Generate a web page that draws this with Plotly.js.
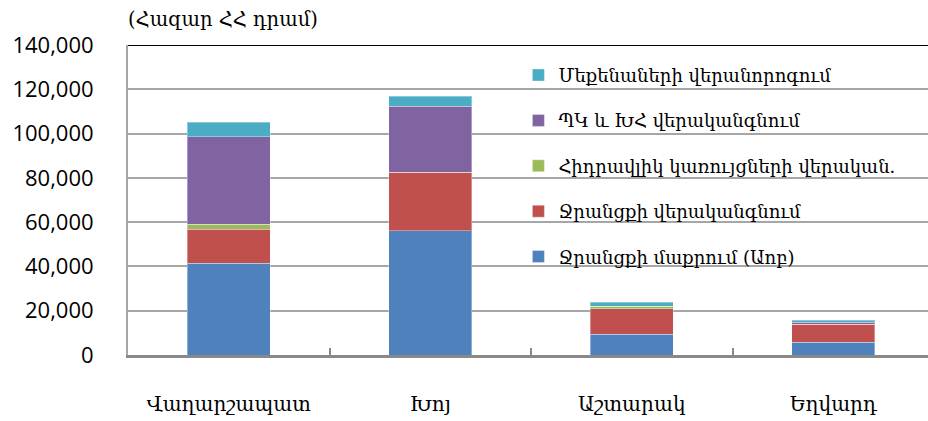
<!DOCTYPE html>
<html>
<head>
<meta charset="utf-8">
<script src="https://cdn.plot.ly/plotly-3.0.1.min.js"></script>
<style>html,body{margin:0;padding:0;background:#fff;}#chart{width:928px;height:421px;}</style>
</head>
<body>
<div id="chart"></div>
<script>
const categories = ["Վաղարշապատ", "Խոյ", "Աշտարակ", "Եղվարդ"];
const seriesNames = [
  "Ջրանցքի մաքրում (Աոբ)",
  "Ջրանցքի վերականգնում",
  "Հիդրավլիկ կառույցների վերական.",
  "ՊԿ և ԽՀ վերականգնում",
  "Մեքենաների վերանորոգում"
];
const cleaning = [41500, 56200, 9300, 5700];
const canalRestoration = [15400, 26300, 11600, 8100];
const hydraulic = [2100, 0, 1200, 200];
const pkRestoration = [39600, 29800, 0, 700];
const machineRepair = [6500, 4500, 1800, 900];
const yTicks = [0, 20000, 40000, 60000, 80000, 100000, 120000, 140000];
const unitLabel = "(Հազար ՀՀ դրամ)";

const colors = ["#4F81BD", "#C0504D", "#9BBB59", "#8064A2", "#4BACC6"];
const values = [cleaning, canalRestoration, hydraulic, pkRestoration, machineRepair];
const armFont = "DejaVu Serif, serif";

const traces = values.map((v, i) => ({
  type: "bar",
  x: categories,
  y: v,
  name: seriesNames[i],
  legendgroup: "g" + i,
  legendrank: 10 - i,
  marker: {color: colors[i], line: {width: 1, color: "rgba(255,255,255,0.35)"}},
  hoverinfo: "x+y+name"
}));

const layout = {
  width: 928, height: 421,
  margin: {l: 128, r: 0, t: 45, b: 66},
  paper_bgcolor: "#fff", plot_bgcolor: "#fff",
  barmode: "stack",
  bargap: 0.59,
  showlegend: true,
  legend: {
    x: 0.488, y: 0.962, xanchor: "left", yanchor: "top",
    bgcolor: "rgba(0,0,0,0)",
    font: {family: armFont, size: 18, color: "#000"},
    tracegroupgap: 19,
    traceorder: "grouped"
  },
  xaxis: {
    type: "category",
    range: [-0.5, 3.47],
    showgrid: false,
    showline: true, linecolor: "#898989", linewidth: 3,
    ticks: "inside", tickson: "boundaries", ticklen: 7, tickcolor: "#898989", tickwidth: 2,
    tickfont: {family: armFont, size: 20, color: "#000"},
    ticklabelstandoff: 29,
    fixedrange: true
  },
  yaxis: {
    range: [0, 140000],
    tickvals: yTicks,
    tickformat: ",d",
    showgrid: true, gridcolor: "#a6a6a6", gridwidth: 2,
    showline: true, linecolor: "#a6a6a6", linewidth: 2,
    zeroline: false,
    ticks: "",
    tickfont: {family: "Open Sans, Noto Sans, sans-serif", size: 22, color: "#000"},
    ticklabelstandoff: 28,
    fixedrange: true
  },
  shapes: [{
    type: "line", xref: "paper", yref: "y",
    x0: 0, x1: 1, y0: 140000, y1: 140000,
    line: {color: "#000", width: 2}
  }],
  annotations: [{
    text: unitLabel, xref: "paper", yref: "paper",
    x: -0.002, y: 1.0, xanchor: "left", yanchor: "bottom", yshift: 12,
    showarrow: false,
    font: {family: armFont, size: 19.5, color: "#000"}
  }]
};

Plotly.newPlot("chart", traces, layout, {displayModeBar: false, staticPlot: true});
</script>
</body>
</html>
